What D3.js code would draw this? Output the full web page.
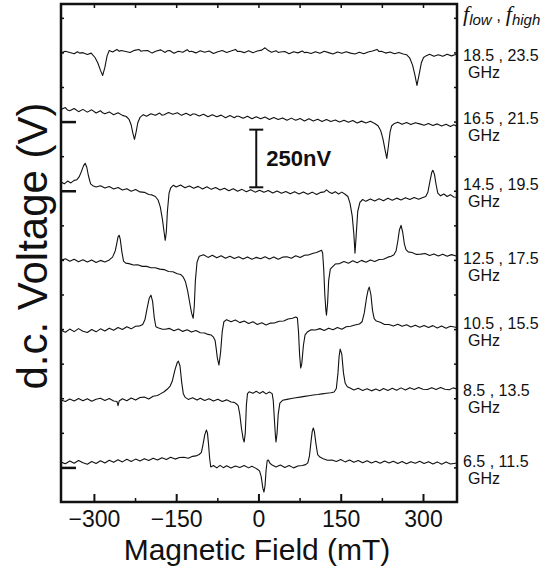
<!DOCTYPE html>
<html>
<head>
<meta charset="utf-8">
<script src="https://d3js.org/d3.v7.min.js"></script>
<style>
  body { margin: 0; background: #fff; }
  svg text { font-family: "Liberation Sans", Arial, sans-serif; fill: #111; }
</style>
</head>
<body>
<div id="chart"></div>
<script>
// frequency pairs, top trace first (GHz)
const fLow = [18.5, 16.5, 14.5, 12.5, 10.5, 8.5, 6.5];
const fHigh = [23.5, 21.5, 19.5, 17.5, 15.5, 13.5, 11.5];
const fieldTicks = [-300, -150, 0, 150, 300];

// traces as plotted (stacked): [field mT, d.c. voltage nV]
const trace185 = [[-360,1948],[-352,1955],[-344,1950],[-336,1944],[-330,1953],[-326,1947],[-320,1949],[-312,1941],[-305,1947],[-298,1928],[-293,1905],[-288,1872],[-284,1850],[-280,1885],[-276,1935],[-272,1958],[-266,1952],[-258,1963],[-254,1955],[-250,1958],[-242,1954],[-234,1950],[-226,1959],[-218,1963],[-214,1955],[-210,1957],[-202,1958],[-194,1947],[-186,1956],[-178,1961],[-170,1950],[-166,1957],[-162,1958],[-154,1946],[-146,1955],[-138,1951],[-130,1962],[-126,1953],[-122,1955],[-114,1948],[-106,1957],[-98,1951],[-90,1956],[-82,1945],[-74,1953],[-66,1958],[-58,1950],[-50,1956],[-42,1963],[-38,1954],[-34,1955],[-26,1949],[-18,1957],[-10,1949],[-2,1956],[6,1960],[12,1970],[18,1958],[24,1951],[32,1957],[36,1950],[40,1952],[48,1954],[56,1944],[64,1953],[72,1948],[80,1956],[84,1949],[88,1951],[96,1945],[104,1953],[112,1946],[120,1955],[128,1949],[136,1943],[144,1952],[152,1946],[160,1953],[168,1947],[176,1943],[184,1951],[192,1944],[200,1952],[208,1956],[216,1963],[220,1954],[224,1955],[232,1947],[240,1952],[248,1944],[256,1950],[264,1943],[270,1940],[276,1925],[281,1895],[285,1855],[289,1807],[293,1855],[297,1905],[301,1928],[306,1936],[312,1942],[320,1933],[328,1940],[336,1933],[344,1942],[352,1935],[358,1940],[362,1942]];
const trace165 = [[-360,1702],[-352,1711],[-348,1700],[-344,1697],[-336,1707],[-328,1693],[-320,1703],[-312,1691],[-304,1701],[-296,1687],[-288,1697],[-284,1688],[-280,1684],[-272,1692],[-264,1680],[-256,1688],[-248,1677],[-241,1672],[-236,1660],[-232,1635],[-229,1600],[-226,1573],[-223,1605],[-220,1645],[-216,1668],[-210,1680],[-204,1673],[-196,1684],[-188,1677],[-180,1687],[-176,1678],[-172,1680],[-164,1689],[-156,1682],[-148,1688],[-140,1677],[-132,1686],[-124,1676],[-120,1683],[-116,1683],[-108,1674],[-100,1682],[-92,1671],[-84,1680],[-76,1671],[-68,1678],[-60,1667],[-52,1676],[-44,1667],[-40,1673],[-36,1673],[-28,1664],[-20,1673],[-12,1662],[-4,1671],[4,1662],[12,1670],[20,1659],[28,1668],[36,1659],[44,1666],[52,1656],[60,1665],[68,1656],[76,1663],[84,1653],[92,1662],[100,1653],[108,1660],[116,1650],[124,1659],[132,1650],[140,1657],[148,1648],[156,1656],[164,1647],[172,1655],[180,1644],[188,1652],[196,1644],[204,1651],[212,1642],[218,1632],[223,1610],[227,1575],[231,1525],[234,1490],[237,1545],[240,1605],[243,1632],[248,1642],[254,1647],[262,1638],[270,1646],[278,1637],[286,1645],[294,1640],[302,1634],[310,1642],[318,1633],[326,1640],[334,1631],[342,1638],[350,1629],[356,1636],[362,1630]];
const trace145 = [[-360,1388],[-354,1380],[-348,1392],[-342,1384],[-336,1395],[-331,1398],[-327,1410],[-323,1432],[-319,1458],[-316,1469],[-313,1452],[-310,1415],[-306,1380],[-302,1372],[-296,1366],[-288,1372],[-280,1362],[-272,1368],[-264,1358],[-256,1364],[-248,1353],[-240,1359],[-232,1348],[-224,1355],[-216,1345],[-208,1343],[-200,1334],[-194,1332],[-188,1325],[-183,1310],[-179,1280],[-175,1225],[-172,1170],[-170,1135],[-168,1170],[-166,1260],[-163,1340],[-160,1362],[-155,1374],[-150,1366],[-142,1375],[-134,1363],[-126,1371],[-118,1361],[-110,1369],[-102,1358],[-94,1367],[-86,1356],[-78,1364],[-70,1353],[-62,1361],[-54,1350],[-46,1359],[-38,1348],[-30,1356],[-22,1346],[-14,1354],[-6,1344],[2,1352],[10,1343],[18,1351],[26,1340],[34,1349],[42,1339],[50,1347],[58,1337],[66,1346],[74,1336],[82,1345],[90,1335],[98,1344],[106,1334],[114,1343],[120,1345],[124,1354],[128,1346],[134,1338],[140,1346],[146,1336],[152,1344],[158,1335],[163,1325],[167,1295],[171,1240],[174,1160],[176,1079],[178,1150],[181,1260],[185,1300],[190,1312],[196,1304],[204,1314],[212,1306],[220,1315],[228,1307],[236,1317],[244,1309],[252,1318],[260,1310],[268,1320],[276,1312],[284,1321],[292,1313],[300,1321],[305,1325],[309,1345],[313,1395],[316,1430],[318,1439],[321,1420],[324,1375],[327,1340],[332,1328],[338,1336],[344,1325],[350,1333],[356,1323],[362,1322]];
const trace125 = [[-360,1048],[-352,1055],[-344,1044],[-336,1053],[-328,1042],[-320,1051],[-312,1041],[-304,1050],[-296,1039],[-288,1048],[-280,1041],[-272,1050],[-266,1062],[-261,1090],[-258,1125],[-256,1150],[-254,1157],[-252,1140],[-249,1085],[-246,1045],[-242,1036],[-236,1034],[-228,1028],[-220,1029],[-212,1022],[-204,1022],[-196,1016],[-188,1016],[-180,1010],[-172,1008],[-164,1000],[-156,999],[-148,990],[-142,987],[-137,975],[-133,955],[-129,915],[-125,860],[-122,820],[-119,797],[-117,850],[-115,960],[-112,1040],[-108,1066],[-100,1072],[-92,1061],[-84,1070],[-76,1059],[-68,1068],[-60,1057],[-52,1066],[-44,1056],[-36,1064],[-28,1054],[-20,1063],[-12,1053],[-4,1061],[4,1055],[12,1064],[20,1054],[28,1063],[36,1053],[44,1062],[52,1064],[60,1057],[68,1068],[76,1060],[84,1070],[92,1072],[100,1079],[106,1082],[111,1088],[115,1092],[117,1080],[119,1010],[121,900],[123,830],[124,810],[126,860],[128,960],[131,1010],[134,1018],[140,1032],[148,1034],[156,1043],[164,1036],[172,1046],[180,1038],[188,1048],[196,1040],[204,1050],[212,1043],[220,1052],[228,1053],[236,1062],[242,1066],[247,1072],[251,1090],[254,1130],[257,1180],[260,1200],[263,1170],[266,1120],[269,1095],[273,1085],[280,1082],[288,1074],[296,1075],[304,1078],[312,1069],[320,1076],[328,1067],[336,1075],[344,1066],[352,1073],[362,1066]];
const trace105 = [[-360,745],[-352,736],[-344,750],[-336,739],[-328,752],[-320,741],[-312,735],[-304,748],[-296,738],[-288,751],[-280,742],[-272,754],[-264,745],[-256,757],[-248,748],[-240,760],[-232,751],[-224,762],[-216,764],[-211,770],[-207,790],[-203,840],[-199,885],[-196,897],[-193,870],[-190,800],[-187,760],[-182,755],[-176,750],[-170,749],[-162,753],[-154,743],[-146,750],[-138,740],[-130,747],[-122,737],[-114,744],[-106,734],[-98,733],[-92,727],[-86,724],[-82,715],[-79,700],[-77,665],[-75,625],[-72,594],[-69,650],[-66,740],[-63,782],[-58,791],[-50,782],[-42,789],[-34,778],[-26,785],[-18,774],[-10,782],[-2,770],[6,777],[14,768],[22,776],[30,777],[38,784],[46,785],[54,794],[62,797],[68,802],[71,798],[73,740],[75,640],[77,581],[79,600],[82,680],[85,725],[89,737],[96,747],[104,746],[112,752],[120,744],[128,754],[136,747],[144,757],[152,749],[160,760],[168,762],[176,768],[184,772],[189,782],[193,820],[197,885],[200,920],[202,932],[205,900],[208,830],[211,795],[215,785],[222,780],[230,770],[238,770],[246,763],[254,771],[262,762],[270,769],[278,759],[286,767],[294,758],[302,766],[310,757],[318,765],[326,755],[334,763],[342,754],[350,762],[362,757]];
const trace85 = [[-360,442],[-352,436],[-344,447],[-336,438],[-328,449],[-320,439],[-312,448],[-304,437],[-296,446],[-288,450],[-280,440],[-272,449],[-264,438],[-258,436],[-256,418],[-254,438],[-248,448],[-240,439],[-232,451],[-224,442],[-216,453],[-208,455],[-200,447],[-192,459],[-184,462],[-178,470],[-172,478],[-166,490],[-161,503],[-157,525],[-152,575],[-148,605],[-146,611],[-143,590],[-140,520],[-137,470],[-134,455],[-128,445],[-120,452],[-112,442],[-106,450],[-98,440],[-90,448],[-82,438],[-74,446],[-66,436],[-58,443],[-50,434],[-44,432],[-40,425],[-37,418],[-34,380],[-31,320],[-28,275],[-26,260],[-24,300],[-22,420],[-20,470],[-17,478],[-10,472],[-4,480],[2,471],[8,479],[14,469],[20,477],[25,470],[27,440],[29,360],[31,285],[32,260],[34,300],[36,380],[39,429],[44,441],[52,445],[60,449],[68,452],[76,455],[84,458],[92,461],[100,464],[108,466],[116,469],[124,472],[132,474],[138,477],[142,492],[145,560],[147,630],[149,663],[152,640],[155,560],[158,516],[162,500],[167,494],[174,486],[182,493],[190,484],[198,491],[206,482],[214,490],[221,483],[228,492],[236,484],[244,493],[252,485],[260,495],[268,486],[276,496],[284,488],[292,497],[300,489],[308,488],[316,496],[324,488],[332,497],[340,489],[348,487],[355,495],[362,490]];
const trace65 = [[-360,173],[-352,166],[-344,178],[-336,168],[-328,180],[-320,170],[-312,164],[-304,176],[-296,167],[-288,179],[-280,169],[-272,181],[-264,172],[-256,183],[-248,174],[-240,185],[-232,176],[-224,186],[-216,178],[-208,188],[-200,180],[-192,190],[-184,182],[-176,192],[-168,184],[-160,194],[-152,186],[-144,193],[-136,194],[-128,190],[-120,198],[-114,200],[-108,206],[-104,215],[-101,250],[-98,290],[-95,312],[-93,300],[-91,250],[-89,190],[-87,152],[-82,158],[-76,148],[-70,159],[-64,149],[-58,157],[-50,147],[-42,156],[-34,150],[-26,158],[-18,148],[-12,155],[-6,148],[-2,142],[2,135],[5,110],[8,60],[10,43],[12,70],[14,140],[16,180],[18,182],[21,168],[25,160],[32,152],[40,160],[48,150],[56,158],[64,148],[72,156],[80,158],[86,162],[90,170],[93,200],[96,265],[98,305],[100,321],[102,305],[105,250],[108,205],[112,195],[118,188],[126,181],[134,182],[142,176],[150,184],[158,174],[166,182],[174,172],[182,180],[190,170],[198,179],[206,169],[214,177],[222,168],[230,178],[238,169],[246,177],[254,167],[262,176],[270,166],[278,175],[286,168],[294,177],[302,167],[310,175],[318,165],[326,174],[334,164],[342,173],[350,165],[362,169]];

const traces = [trace185, trace165, trace145, trace125, trace105, trace85, trace65];

const width = 552, height = 566;
const padLeft = 61, padRight = 457, padTop = 4, padBottom = 502;

// text rows on the right (baseline px of first line), layout only
const labelBase = [61, 124, 190, 264, 329, 396, 467];

const svg = d3.select('#chart')
  .append('svg')
  .attr('width', width)
  .attr('height', height);

const x = d3.scaleLinear().domain([-360, 362]).range([padLeft, padRight]);
const y = d3.scaleLinear().domain([0, 2160]).range([padBottom, padTop]);

const line = d3.line()
  .x(d => x(d[0]))
  .y(d => y(d[1]));

svg.append('g')
  .selectAll('path')
  .data(traces)
  .enter()
  .append('path')
  .attr('d', line)
  .attr('fill', 'none')
  .attr('stroke', '#111')
  .attr('stroke-width', 1.1)
  .attr('stroke-linejoin', 'round');

// axes, ticks pointing inward
function styleAxis(g, w) {
  g.select('.domain').remove();
  g.selectAll('.tick line').attr('stroke', '#111').attr('stroke-width', w);
}

svg.append('g')
  .attr('transform', 'translate(0,' + padBottom + ')')
  .call(d3.axisBottom(x).tickValues(fieldTicks).tickSizeInner(-8).tickSizeOuter(0).tickPadding(9))
  .call(g => styleAxis(g, 2))
  .call(g => g.selectAll('text').style('font-size', '23px').attr('fill', '#111'));

svg.append('g')
  .attr('transform', 'translate(0,' + padBottom + ')')
  .call(d3.axisBottom(x).tickValues([-225, -75, 75, 225]).tickSizeInner(-4).tickSizeOuter(0).tickFormat(''))
  .call(g => styleAxis(g, 1.5));

svg.append('g')
  .attr('transform', 'translate(0,' + padTop + ')')
  .call(d3.axisTop(x).tickValues(d3.range(-300, 301, 75)).tickSizeInner(-4).tickSizeOuter(0).tickFormat(''))
  .call(g => styleAxis(g, 1.5));

svg.append('g')
  .attr('transform', 'translate(' + padLeft + ',0)')
  .call(d3.axisLeft(y).tickValues(d3.range(150, 2101, 150)).tickSizeInner(-3).tickSizeOuter(0).tickFormat(''))
  .call(g => styleAxis(g, 1.5));

svg.append('g')
  .attr('transform', 'translate(' + padLeft + ',0)')
  .call(d3.axisLeft(y).tickValues([150, 1350, 1650]).tickSizeInner(-15).tickSizeOuter(0).tickFormat(''))
  .call(g => styleAxis(g, 2.5));

svg.append('g')
  .attr('transform', 'translate(' + padRight + ',0)')
  .call(d3.axisRight(y).tickValues(d3.range(150, 2101, 150)).tickSizeInner(-3).tickSizeOuter(0).tickFormat(''))
  .call(g => styleAxis(g, 1.5));

// frame
svg.append('rect')
  .attr('x', padLeft)
  .attr('y', padTop)
  .attr('width', padRight - padLeft)
  .attr('height', padBottom - padTop)
  .attr('fill', 'none')
  .attr('stroke', '#111')
  .attr('stroke-width', 2.5);

// axis titles
svg.append('text')
  .attr('x', (padLeft + padRight) / 2 - 2)
  .attr('y', 560)
  .attr('text-anchor', 'middle')
  .style('font-size', '30px')
  .text('Magnetic Field (mT)');

svg.append('text')
  .attr('transform', 'translate(47,246) rotate(-90)')
  .attr('text-anchor', 'middle')
  .style('font-size', '42px')
  .text('d.c. Voltage (V)');

// 250 nV scale bar
const barX = x(-4), barLo = 1365, barHi = barLo + 250;
const bar = svg.append('g').attr('stroke', '#111').attr('stroke-width', 2);
bar.append('line').attr('x1', barX).attr('x2', barX).attr('y1', y(barLo)).attr('y2', y(barHi));
bar.append('line').attr('x1', barX - 7).attr('x2', barX + 7).attr('y1', y(barLo)).attr('y2', y(barLo));
bar.append('line').attr('x1', barX - 7).attr('x2', barX + 7).attr('y1', y(barHi)).attr('y2', y(barHi));
svg.append('text')
  .attr('x', barX + 10)
  .attr('y', y(barLo + 125) + 8)
  .style('font-size', '22px')
  .style('font-weight', 'bold')
  .text('250nV');

// header f_low , f_high
const head = svg.append('text').attr('x', 463).attr('y', 21);
head.append('tspan').style('font-family', '"Liberation Serif", serif').style('font-style', 'italic').style('font-size', '22px').text('f');
head.append('tspan').attr('dy', 4).style('font-style', 'italic').style('font-size', '15px').text('low');
head.append('tspan').attr('dy', -4).style('font-size', '17px').text(' , ');
head.append('tspan').style('font-family', '"Liberation Serif", serif').style('font-style', 'italic').style('font-size', '22px').text('f');
head.append('tspan').attr('dy', 4).style('font-style', 'italic').style('font-size', '15px').text('high');

// frequency labels
const labels = svg.append('g').style('font-size', '16px');
labels.selectAll('text.pair')
  .data(fLow)
  .enter()
  .append('text')
  .attr('class', 'pair')
  .attr('x', 463)
  .attr('y', (d, i) => labelBase[i])
  .text((d, i) => d + ' , ' + fHigh[i]);
labels.selectAll('text.unit')
  .data(fLow)
  .enter()
  .append('text')
  .attr('class', 'unit')
  .attr('x', 468)
  .attr('y', (d, i) => labelBase[i] + 17)
  .text('GHz');
</script>
</body>
</html>
